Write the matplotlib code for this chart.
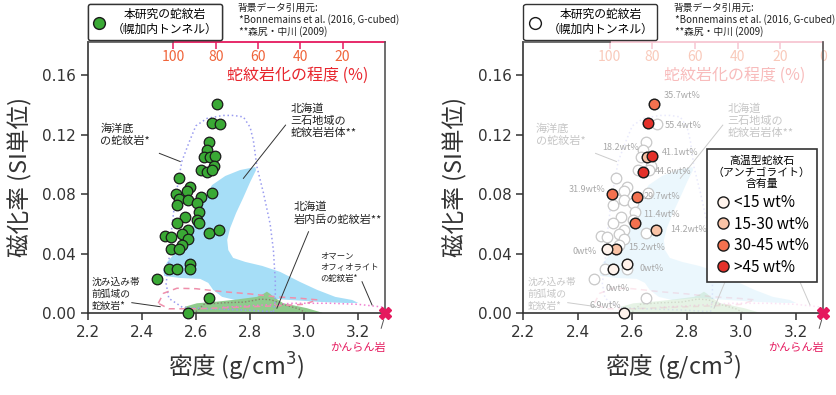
import matplotlib
matplotlib.use("Agg")
import matplotlib.pyplot as plt
import numpy as np
from matplotlib.lines import Line2D

plt.rcParams['font.family'] = ['Noto Sans CJK JP', 'DejaVu Sans']

# 本研究の蛇紋岩（幌加内トンネル）: 密度 (g/cm3) と 磁化率 (SI)
density = [2.680, 2.659, 2.690, 2.649, 2.641, 2.632, 2.653, 2.671, 2.669, 2.620,
           2.641, 2.660, 2.539, 2.659, 2.579, 2.569, 2.527, 2.539, 2.619, 2.570,
           2.530, 2.604, 2.610, 2.560, 2.530, 2.604, 2.610, 2.649, 2.687, 2.486,
           2.508, 2.570, 2.550, 2.570, 2.550, 2.508, 2.539, 2.499, 2.530, 2.579,
           2.579, 2.458, 2.649, 2.570]
suscept = [0.141, 0.128, 0.127, 0.115, 0.110, 0.105, 0.105, 0.106, 0.099, 0.096,
           0.095, 0.096, 0.091, 0.081, 0.085, 0.082, 0.080, 0.077, 0.078, 0.076,
           0.073, 0.074, 0.068, 0.065, 0.061, 0.063, 0.061, 0.054, 0.056, 0.052,
           0.051, 0.056, 0.053, 0.050, 0.046, 0.043, 0.043, 0.030, 0.030, 0.033,
           0.030, 0.023, 0.0105, 0.000]

# 右図: アンチゴライト含有量を測った試料
ant_idx = [0, 1, 6, 7, 10, 16, 18, 26, 28, 36, 35, 39, 38, 43]
ant_wt = ['35.7', '55.4', '18.2', '41.1', '44.6', '31.9', '29.7', '11.4', '14.2',
          '15.2', '0', '0', '0', '6.9']
ant_class = [2, 3, 1, 3, 3, 2, 2, 2, 1, 1, 0, 0, 0, 0]
class_labels = ['<15 wt%', '15-30 wt%', '30-45 wt%', '>45 wt%']
class_colors = ['#fff3ec', '#f9c3a6', '#f3714f', '#e4312a']
# ラベル位置 (x, y, ha)
ant_lab_pos = [(2.714, 0.1467, 'left'), (2.720, 0.1265, 'left'), (2.490, 0.1115, 'left'),
               (2.708, 0.1082, 'left'), (2.683, 0.0956, 'left'), (2.503, 0.0829, 'right'),
               (2.640, 0.0784, 'left'), (2.640, 0.0661, 'left'), (2.739, 0.0565, 'left'),
               (2.585, 0.0441, 'left'), (2.468, 0.0414, 'right'), (2.628, 0.0302, 'left'),
               (2.503, 0.0168, 'left'), (2.444, 0.0049, 'left')]

# 背景データ
mitsuishi_x = [2.820, 2.764, 2.709, 2.660, 2.634, 2.616, 2.590, 2.560, 2.527, 2.494,
               2.479, 2.483, 2.542, 2.616, 2.646, 2.664, 2.697, 2.746, 2.838, 2.949,
               3.060, 3.153, 3.201, 3.179, 3.116, 3.049, 2.986, 2.912, 2.846, 2.783,
               2.738, 2.720, 2.716, 2.727, 2.749, 2.775, 2.801, 2.823]
mitsuishi_y = [0.0983, 0.0963, 0.0923, 0.0862, 0.0782, 0.0694, 0.0594, 0.0493, 0.0412, 0.0345,
               0.0291, 0.0251, 0.0237, 0.0231, 0.0204, 0.0157, 0.0110, 0.0089, 0.0103, 0.0089,
               0.0076, 0.0069, 0.0069, 0.0089, 0.0110, 0.0157, 0.0210, 0.0278, 0.0318, 0.0345,
               0.0372, 0.0425, 0.0493, 0.0573, 0.0674, 0.0775, 0.0882, 0.0963]
iwanai_x = [2.55, 2.56, 2.604, 2.678, 2.74, 2.826, 2.85, 2.863, 2.875, 2.887, 2.924, 2.97, 3.011, 3.067, 3.07]
iwanai_y = [0.0, 0.0044, 0.0067, 0.0078, 0.009, 0.011, 0.013, 0.0145, 0.013, 0.011, 0.0067, 0.005, 0.0034, 0.0004, 0.0]
iwanai2_x = [2.60, 2.63, 2.70, 2.78, 2.84, 2.88, 2.92, 2.98, 3.01]
iwanai2_y = [0.001, 0.006, 0.007, 0.0075, 0.0095, 0.009, 0.006, 0.003, 0.0]
ocean_x = [2.887, 2.894, 2.894, 2.887, 2.875, 2.850, 2.826, 2.813, 2.801, 2.776, 2.739, 2.70,
           2.641, 2.60, 2.575, 2.548, 2.523, 2.51, 2.50, 2.49, 2.50, 2.55, 2.65, 2.80, 2.887]
ocean_y = [0.001, 0.009, 0.022, 0.0425, 0.060, 0.081, 0.0985, 0.116, 0.125, 0.132, 0.133, 0.133,
           0.131, 0.126, 0.115, 0.102, 0.076, 0.056, 0.035, 0.020, 0.010, 0.004, 0.003, 0.002, 0.001]
forearc_x = [2.461, 2.48, 2.53, 2.60, 2.70, 2.80, 2.90, 2.99, 3.05, 3.00, 2.90, 2.75, 2.60, 2.50, 2.461]
forearc_y = [0.0067, 0.0134, 0.0168, 0.0165, 0.0145, 0.013, 0.011, 0.010, 0.009, 0.006, 0.005,
             0.004, 0.003, 0.003, 0.0067]
oman_x = [2.70, 2.80, 2.96, 3.10, 3.20, 3.30]
oman_y = [0.004, 0.005, 0.0067, 0.0067, 0.006, 0.004]

D100, D0 = 2.517, 3.3


def to_serp(d):
    return (D0 - np.asarray(d)) / (D0 - D100) * 100


def to_dens(s):
    return D0 - np.asarray(s) / 100 * (D0 - D100)


def draw_panel(ax, faded):
    a = 0.22 if faded else 1.0
    tc = '#c6c6c6' if faded else '#222222'
    lc = '#cccccc' if faded else '#333333'
    ax.fill(mitsuishi_x, mitsuishi_y, color='#a6def7', lw=0, alpha=a, zorder=1)
    ax.fill(iwanai_x, iwanai_y, color='#8fcb8c', lw=0, alpha=a, zorder=1)
    ax.plot(iwanai2_x, iwanai2_y, ls=(0, (1, 1.5)), color='#8a7f6f', lw=1, alpha=a, zorder=2)
    ax.plot(ocean_x, ocean_y, ls=(0, (1, 1.8)), color='#9a9cf0', lw=1.1, alpha=a, zorder=2)
    ax.plot(forearc_x, forearc_y, ls=(0, (4, 3)), color='#ef8fab', lw=1.1, alpha=a, zorder=2)
    ax.plot(oman_x, oman_y, ls=(0, (1, 1.8)), color='#f07fd0', lw=1.1, alpha=a, zorder=2)

    ax.text(2.246, 0.128, '海洋底\nの蛇紋岩*', fontsize=8, color=tc, ha='left', va='top',
            linespacing=1.25)
    ax.plot([2.465, 2.542], [0.1075, 0.102], color=lc, lw=0.7, zorder=3)
    ax.text(2.95, 0.1413, '北海道\n三石地域の\n蛇紋岩岩体**', fontsize=8, color=tc,
            ha='left', va='top', linespacing=1.25)
    ax.plot([2.932, 2.776], [0.1265, 0.0907], color=lc, lw=0.7, zorder=3)
    ax.text(2.961, 0.075, '北海道\n岩内岳の蛇紋岩**', fontsize=8, color=tc,
            ha='left', va='top', linespacing=1.25)
    ax.plot([3.017, 2.90], [0.0548, 0.0034], color=lc, lw=0.7, zorder=3)
    ax.text(3.06, 0.0414, 'オマーン\nオフィオライト\nの蛇紋岩*', fontsize=6, color=tc,
            ha='left', va='top', linespacing=1.3)
    ax.plot([3.215, 3.252], [0.0212, 0.0056], color=lc, lw=0.7, zorder=3)
    ax.text(2.215, 0.0246, '沈み込み帯\n前弧域の\n蛇紋岩*', fontsize=7, color=tc,
            ha='left', va='top', linespacing=1.3)
    ax.plot([2.363, 2.468], [0.0071, 0.0044], color=lc, lw=0.7, zorder=3)

    # かんらん岩
    ax.plot([3.3], [0.0], marker='X', ms=9, color='#e5195e', clip_on=False, zorder=6)
    ax.plot([3.295, 3.286], [-0.0045, -0.0101], color='#555555', lw=0.7, clip_on=False)
    ax.text(3.2, -0.0233, 'かんらん岩', fontsize=8, color='#e5195e', ha='center', va='center')

    ax.set_xlim(2.2, 3.3)
    ax.set_ylim(0, 0.1826)
    ax.set_xticks([2.2, 2.4, 2.6, 2.8, 3.0, 3.2])
    ax.set_xticklabels(['2.2', '2.4', '2.6', '2.8', '3.0', '3.2'])
    ax.set_yticks([0.0, 0.04, 0.08, 0.12, 0.16])
    ax.set_yticklabels(['0.00', '0.04', '0.08', '0.12', '0.16'])
    ax.tick_params(labelsize=11, length=5, width=1.1, color='#333333', labelcolor='#333333',
                   labelfontfamily='DejaVu Sans')
    for s in ax.spines.values():
        s.set_color('#555555')
        s.set_linewidth(1.2)
    ax.spines['left'].set_color('#333333')
    ax.spines['bottom'].set_color('#333333')
    ax.spines['top'].set_bounds(2.2, D100)
    ax.set_xlabel('密度 (g/cm$^3$)', fontsize=17, color='#333333')
    ax.set_ylabel('磁化率 (SI単位)', fontsize=17, color='#333333')
    ax.xaxis.set_label_coords(0.5, -0.14)
    ax.yaxis.set_label_coords(-0.185, 0.5)

    # 蛇紋岩化の程度
    sec = ax.secondary_xaxis('top', functions=(to_serp, to_dens))
    if faded:
        sec.set_xticks([100, 80, 60, 40, 20, 0])
        spc, tlc, labc = '#f7c6d2', '#f9cabb', '#f8bcbc'
    else:
        sec.set_xticks([100, 80, 60, 40, 20])
        spc, tlc, labc = '#e5195e', '#f0643a', '#e8262e'
    sec.tick_params(direction='in', length=5, width=1.1, pad=-16, color=spc,
                    labelcolor=tlc, labelsize=10)
    sec.spines['top'].set_color(spc)
    sec.spines['top'].set_linewidth(1.3)
    sec.spines['top'].set_bounds(0, 100)
    ax.text(2.977, 0.1597, '蛇紋岩化の程度 (%)', fontsize=11.5, color=labc,
            ha='center', va='center')


fig = plt.figure(figsize=(8.36, 3.95), dpi=100)
ax1 = fig.add_axes([0.105, 0.207, 0.3555, 0.6875])
ax2 = fig.add_axes([0.626, 0.207, 0.3585, 0.6875])

draw_panel(ax1, False)
draw_panel(ax2, True)

# 左図: 本研究の試料
ax1.scatter(density, suscept, s=58, color='#3aa935', edgecolors='#1a1a1a', linewidths=0.9,
            zorder=5, clip_on=False)

# 右図: アンチゴライト含有量
ax2.scatter(density, suscept, s=58, color='white', edgecolors='#c8c8c8', linewidths=0.9,
            zorder=4, clip_on=False)
for i, wt, c, (lx, ly, ha) in zip(ant_idx, ant_wt, ant_class, ant_lab_pos):
    ax2.scatter([density[i]], [suscept[i]], s=58, color=class_colors[c], edgecolors='#1a1a1a',
                linewidths=1.0, zorder=5, clip_on=False)
    ax2.text(lx, ly, wt + 'wt%', fontsize=6.5, color='#a8a8a8', ha=ha, va='center', zorder=6)

# 本研究の凡例
for ax, fc in [(ax1, '#3aa935'), (ax2, 'white')]:
    h = Line2D([], [], marker='o', ls='', mfc=fc, mec='#1a1a1a', ms=8.5, mew=1.0)
    leg = ax.legend([h], ['本研究の蛇紋岩\n（幌加内トンネル）'], loc='upper left',
                    bbox_to_anchor=(0, 1.14), borderaxespad=0, fontsize=8.5, fancybox=True,
                    edgecolor='#333333', framealpha=1, handletextpad=0.5, borderpad=0.35,
                    handlelength=1.2)
    leg.get_frame().set_linewidth(1.0)
    for t in leg.get_texts():
        t.set_multialignment('center')
    ax.add_artist(leg)

hs = [Line2D([], [], marker='o', ls='', mfc=c, mec='#1a1a1a', ms=8, mew=1.0) for c in class_colors]
leg2 = ax2.legend(hs, class_labels, title='高温型蛇紋石\n（アンチゴライト）\n含有量', loc='upper right',
                  bbox_to_anchor=(0.979, 0.605), borderaxespad=0, fontsize=11, title_fontsize=7.8,
                  fancybox=False, edgecolor='#333333', framealpha=1, handletextpad=0.2,
                  handlelength=1.1, labelspacing=0.3, borderpad=0.4)
leg2.get_frame().set_linewidth(1.2)
leg2.get_title().set_multialignment('center')
leg2.set_zorder(10)

for x in [0.2835, 0.8054]:
    fig.text(x, 0.992, '背景データ引用元:\n *Bonnemains et al. (2016, G-cubed)\n **森尻・中川 (2009)',
             fontsize=7, color='#222222', ha='left', va='top', linespacing=1.1)

fig.savefig('out.png', dpi=100)
